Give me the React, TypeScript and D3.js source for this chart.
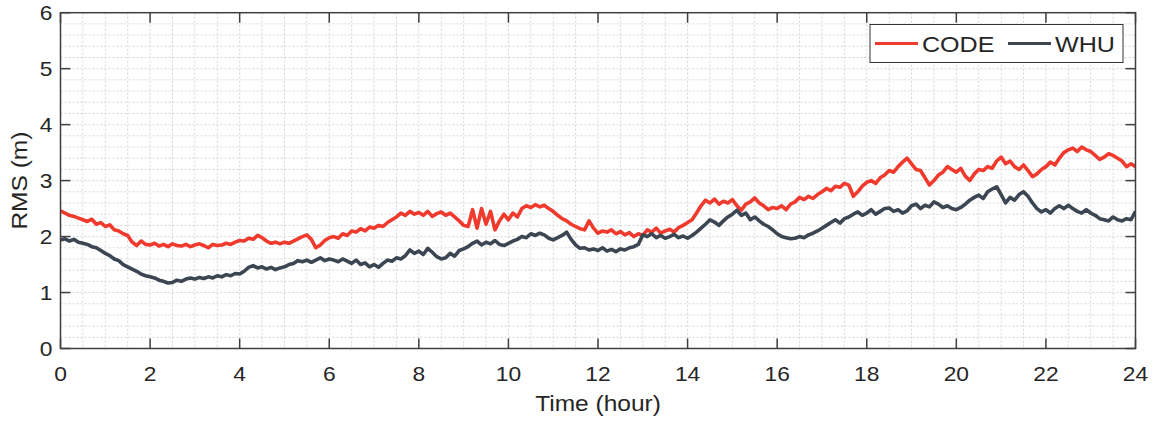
import React from "react";
import * as d3 from "d3";

// RMS series sampled every 0.1 hour, 00:00 to 24:00
const hours: number[] = d3.range(0, 24.0001, 0.1).map((v) => +v.toFixed(1));

const codeRms: number[] = [
  2.46, 2.42, 2.38, 2.36, 2.33, 2.30, 2.27, 2.31, 2.22, 2.25,
  2.18, 2.21, 2.12, 2.10, 2.05, 2.02, 1.90, 1.84, 1.92, 1.86,
  1.85, 1.88, 1.83, 1.86, 1.82, 1.87, 1.84, 1.83, 1.86, 1.82,
  1.85, 1.87, 1.84, 1.80, 1.86, 1.84, 1.85, 1.88, 1.86, 1.90,
  1.93, 1.92, 1.97, 1.95, 2.02, 1.98, 1.92, 1.88, 1.90, 1.87,
  1.90, 1.88, 1.92, 1.96, 2.00, 2.03, 1.95, 1.80, 1.85, 1.93,
  1.98, 2.00, 1.97, 2.05, 2.02, 2.10, 2.08, 2.14, 2.10, 2.17,
  2.15, 2.20, 2.18, 2.25, 2.30, 2.35, 2.42, 2.38, 2.45, 2.40,
  2.43, 2.38, 2.45, 2.36, 2.41, 2.44, 2.38, 2.42, 2.35, 2.28,
  2.20, 2.18, 2.48, 2.15, 2.50, 2.22, 2.45, 2.12, 2.28, 2.40,
  2.30, 2.42, 2.35, 2.50, 2.55, 2.52, 2.57, 2.53, 2.56, 2.50,
  2.45, 2.38, 2.32, 2.28, 2.22, 2.18, 2.14, 2.12, 2.28, 2.15,
  2.06, 2.10, 2.08, 2.12, 2.05, 2.09, 2.03, 2.07, 2.00, 2.05,
  2.02, 2.12, 2.08, 2.15, 2.06, 2.10, 2.13, 2.08, 2.16, 2.20,
  2.25, 2.30, 2.42, 2.55, 2.65, 2.60, 2.67, 2.58, 2.63, 2.60,
  2.66, 2.55, 2.47, 2.58, 2.62, 2.69, 2.60, 2.55, 2.48, 2.52,
  2.50, 2.55, 2.48, 2.58, 2.62, 2.70, 2.66, 2.72, 2.68, 2.75,
  2.80, 2.86, 2.82, 2.90, 2.88, 2.95, 2.92, 2.72, 2.80, 2.90,
  2.97, 3.00, 2.95, 3.05, 3.10, 3.18, 3.15, 3.25, 3.33, 3.40,
  3.30, 3.20, 3.18, 3.05, 2.92, 3.00, 3.10, 3.15, 3.25, 3.20,
  3.15, 3.22, 3.08, 3.00, 3.12, 3.20, 3.18, 3.25, 3.22, 3.35,
  3.42, 3.30, 3.35, 3.25, 3.20, 3.28, 3.18, 3.07, 3.12, 3.20,
  3.25, 3.33, 3.28, 3.40, 3.50, 3.55, 3.58, 3.52, 3.60, 3.55,
  3.52, 3.45, 3.38, 3.42, 3.48, 3.45, 3.40, 3.35, 3.25, 3.30,
  3.25,
];

const whuRms: number[] = [
  1.94, 1.96, 1.92, 1.95, 1.90, 1.88, 1.86, 1.82, 1.80, 1.75,
  1.70, 1.66, 1.60, 1.57, 1.50, 1.46, 1.42, 1.38, 1.33, 1.30,
  1.28, 1.26, 1.22, 1.20, 1.17, 1.18, 1.22, 1.20, 1.24, 1.26,
  1.24, 1.27, 1.25, 1.28, 1.26, 1.30, 1.28, 1.32, 1.30, 1.34,
  1.33, 1.38, 1.45, 1.48, 1.44, 1.46, 1.42, 1.45, 1.41, 1.44,
  1.46, 1.50, 1.52, 1.57, 1.55, 1.58, 1.54, 1.58, 1.62, 1.57,
  1.60, 1.58, 1.55, 1.60, 1.56, 1.52, 1.58, 1.50, 1.53, 1.46,
  1.50, 1.45, 1.52, 1.58, 1.56, 1.62, 1.60, 1.66, 1.76, 1.70,
  1.74, 1.68, 1.79, 1.72, 1.64, 1.60, 1.62, 1.70, 1.65, 1.75,
  1.78, 1.82, 1.88, 1.92, 1.85, 1.90, 1.87, 1.93, 1.86, 1.84,
  1.88, 1.92, 1.95, 2.00, 1.98, 2.05, 2.02, 2.06, 2.03, 1.97,
  1.94, 1.98, 2.02, 2.08, 1.95, 1.85, 1.79, 1.80, 1.76, 1.78,
  1.75, 1.80, 1.74, 1.77, 1.73, 1.78, 1.76, 1.80, 1.82, 1.86,
  2.03, 2.00, 2.05, 1.98, 2.02, 1.97, 2.00, 2.04, 1.98, 2.01,
  1.97, 2.02, 2.08, 2.15, 2.22, 2.30, 2.26, 2.20, 2.28, 2.35,
  2.40, 2.47, 2.38, 2.42, 2.30, 2.35, 2.28, 2.22, 2.18, 2.12,
  2.05, 2.00, 1.98, 1.96, 1.97, 2.00, 1.98, 2.03, 2.06, 2.10,
  2.15, 2.20, 2.25, 2.30, 2.24, 2.32, 2.35, 2.40, 2.44, 2.38,
  2.42, 2.48, 2.40, 2.45, 2.50, 2.51, 2.45, 2.48, 2.42, 2.46,
  2.55, 2.58, 2.50, 2.56, 2.53, 2.62, 2.58, 2.52, 2.55, 2.50,
  2.48, 2.52, 2.58, 2.65, 2.70, 2.74, 2.68, 2.80, 2.85, 2.89,
  2.75, 2.60, 2.70, 2.65, 2.75, 2.80, 2.72, 2.60, 2.50, 2.44,
  2.48, 2.42, 2.50, 2.55, 2.50, 2.56, 2.50, 2.45, 2.42, 2.48,
  2.42, 2.38, 2.32, 2.30, 2.28, 2.35, 2.30, 2.28, 2.32, 2.30,
  2.45,
];

const seriesNames: string[] = ["CODE", "WHU"];
const seriesColors: string[] = ["#f03a2e", "#3b4652"];
const xTicks: number[] = [0, 2, 4, 6, 8, 10, 12, 14, 16, 18, 20, 22, 24];
const yTicks: number[] = [0, 1, 2, 3, 4, 5, 6];

const W = 1153;
const H = 421;
const margin = { left: 60.5, right: 17.5, top: 12.7, bottom: 72.5 };
const FONT = "'Liberation Sans', Arial, Helvetica, sans-serif";
const SX = 1.14; // horizontal stretch of glyphs

export default function App() {
  const x = d3.scaleLinear().domain([0, 24]).range([margin.left, W - margin.right]);
  const y = d3.scaleLinear().domain([0, 6]).range([H - margin.bottom, margin.top]);
  const [x0, x1] = x.range();
  const [yb, yt] = y.range();

  const line = d3
    .line<number>()
    .x((_, i) => x(hours[i]))
    .y((d) => y(d));

  const xGrid = d3.range(0.5, 24, 0.5);
  const yGrid = d3.range(0.2, 6, 0.2);
  const axisColor = "#3f3f3f";
  const tickLen = 10;

  const series = [codeRms, whuRms];

  const text = (
    key: string,
    tx: number,
    ty: number,
    s: string,
    size: number,
    anchor: "start" | "middle" | "end",
    rotate = 0
  ) => (
    <g key={key} transform={`translate(${tx},${ty}) rotate(${rotate}) scale(${SX},1)`}>
      <text
        fontFamily={FONT}
        fontSize={size}
        fill="#262626"
        textAnchor={anchor}
      >
        {s}
      </text>
    </g>
  );

  const legend = { x: 870, y: 24.5, w: 253, h: 38 };

  return (
    <svg
      width={W}
      height={H}
      style={{ position: "absolute", left: 0, top: 0, background: "#fff" }}
    >
      <rect x={0} y={0} width={W} height={H} fill="#fff" />
      {/* dotted grid */}
      <g stroke="#d6d6d6" strokeWidth={1} strokeDasharray="2 2">
        {xGrid.map((g) => (
          <line key={`gx${g}`} x1={x(g)} x2={x(g)} y1={yt} y2={yb} />
        ))}
        {yGrid.map((g) => (
          <line key={`gy${g}`} x1={x0} x2={x1} y1={y(g)} y2={y(g)} />
        ))}
      </g>

      {/* data */}
      <g clipPath="url(#plotClip)">
        {series.map((s, k) => (
          <path
            key={seriesNames[k]}
            d={line(s) || ""}
            fill="none"
            stroke={seriesColors[k]}
            strokeWidth={3.6}
            strokeLinejoin="round"
          />
        ))}
      </g>
      <defs>
        <clipPath id="plotClip">
          <rect x={x0} y={yt} width={x1 - x0} height={yb - yt} />
        </clipPath>
      </defs>

      {/* axes box and ticks */}
      <rect x={x0} y={yt} width={x1 - x0} height={yb - yt} fill="none" stroke={axisColor} strokeWidth={1.5} />
      <g stroke={axisColor} strokeWidth={1.5}>
        {xTicks.map((t) => (
          <g key={`xt${t}`}>
            <line x1={x(t)} x2={x(t)} y1={yb} y2={yb - tickLen} />
            <line x1={x(t)} x2={x(t)} y1={yt} y2={yt + tickLen} />
          </g>
        ))}
        {yTicks.map((t) => (
          <g key={`yt${t}`}>
            <line x1={x0} x2={x0 + tickLen} y1={y(t)} y2={y(t)} />
            <line x1={x1} x2={x1 - tickLen} y1={y(t)} y2={y(t)} />
          </g>
        ))}
      </g>

      {/* tick labels */}
      {xTicks.map((t) => text(`xl${t}`, x(t), yb + 32, String(t), 20, "middle"))}
      {yTicks.map((t) => text(`yl${t}`, x0 - 8, y(t) + 7, String(t), 20, "end"))}

      {/* axis titles */}
      {text("xlab", (x0 + x1) / 2, 411, "Time (hour)", 21.5, "middle")}
      {text("ylab", 27, (yt + yb) / 2, "RMS (m)", 21.5, "middle", -90)}

      {/* legend */}
      <rect x={legend.x} y={legend.y} width={legend.w} height={legend.h} fill="#fff" stroke="#333" strokeWidth={1} />
      {seriesNames.map((n, k) => {
        const lx = legend.x + 5 + k * 133;
        const ly = legend.y + legend.h / 2;
        return (
          <g key={`lg${n}`}>
            <line x1={lx} x2={lx + 43} y1={ly} y2={ly} stroke={seriesColors[k]} strokeWidth={3.2} />
            {text(`lt${n}`, lx + 47, ly + 8, n, 22, "start")}
          </g>
        );
      })}
    </svg>
  );
}
